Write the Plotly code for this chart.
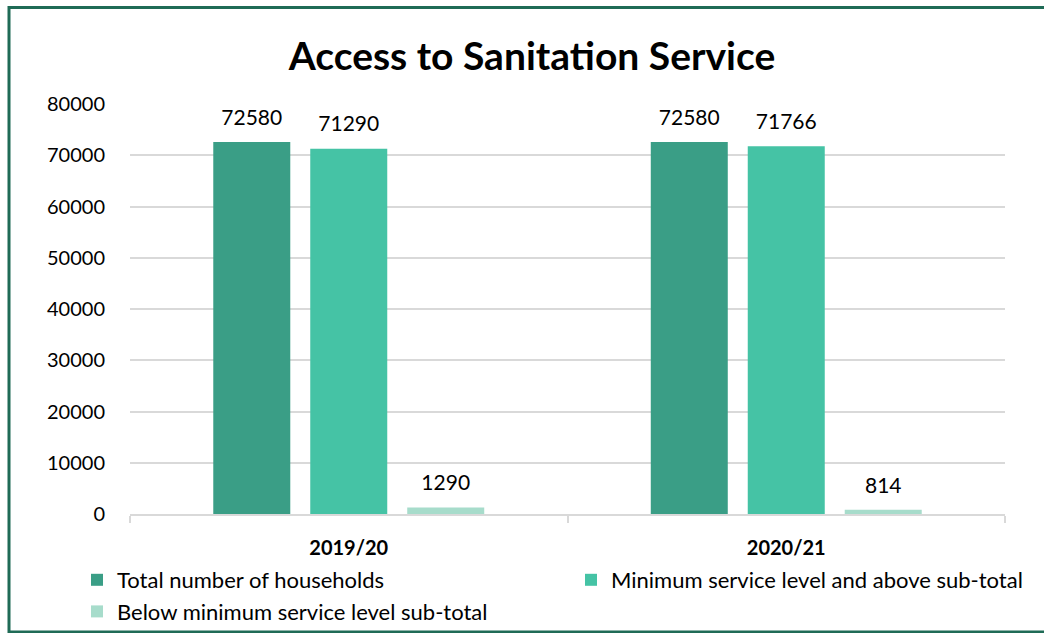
import plotly.graph_objects as go

years = ["2019/20", "2020/21"]
series_names = [
    "Total number of households",
    "Minimum service level and above sub-total",
    "Below minimum service level sub-total",
]
total_households = [72580, 72580]
min_and_above = [71290, 71766]
below_min = [1290, 814]
colors = ["#3A9E86", "#45C3A5", "#A7DCCB"]

FONT = "Lato"
LABEL_PAD = 2000  # gap (in axis units) between a bar top and its value label

fig = go.Figure()
for i, (name, vals, col) in enumerate(zip(series_names, [total_households, min_and_above, below_min], colors)):
    fig.add_trace(go.Bar(
        x=years, y=vals, name=name, offsetgroup=str(i),
        marker=dict(color=col, line=dict(width=0)),
        hoverinfo="x+y+name",
    ))
    # transparent spacer bar stacked on top of each bar carries the value label
    fig.add_trace(go.Bar(
        x=years, y=[LABEL_PAD] * len(vals), base=vals, offsetgroup=str(i),
        marker=dict(color="rgba(0,0,0,0)", line=dict(width=0)),
        text=[str(v) for v in vals], textposition="outside",
        textfont=dict(family=FONT, size=21, color="#000000"),
        cliponaxis=False, showlegend=False, hoverinfo="skip",
    ))

# plot area: x 130..1005, y 104..514
L, R, T, B = 130, 39, 104, 119
W, H = 1044, 633
pw, ph = W - L - R, H - T - B

def px(x):
    return (x - L) / pw

def py(y):
    return (H - B - y) / ph

fig.update_layout(
    width=W, height=H,
    margin=dict(l=L, r=R, t=T, b=B, autoexpand=False),
    paper_bgcolor="white", plot_bgcolor="white",
    barmode="group", bargap=0.335, bargroupgap=0.206,
    title=dict(text="<b>Access to Sanitation Service</b>", x=532 / W, xanchor="center",
               y=1 - 56 / H, yanchor="middle",
               font=dict(family=FONT, size=39, color="#000000")),
    font=dict(family=FONT, color="#000000"),
    showlegend=True,
    legend=dict(orientation="h", x=px(77), xanchor="left", y=py(559), yanchor="top",
                entrywidth=449, font=dict(family=FONT, size=22, color="#000000"),
                traceorder="normal", itemclick=False, bgcolor="rgba(0,0,0,0)",
                tracegroupgap=0),
    xaxis=dict(type="category", showline=True, linecolor="#D9D9D9", linewidth=1.5,
               ticks="outside", tickson="boundaries", ticklen=7, tickcolor="#D9D9D9",
               tickwidth=1.5, tickfont=dict(family=FONT, size=20, color="#000000"),
               ticklabelstandoff=15, showgrid=False),
    yaxis=dict(range=[0, 80000], dtick=10000, showgrid=True, gridcolor="#D9D9D9",
               gridwidth=1.5, zeroline=False, showline=False, ticks="",
               tickfont=dict(family=FONT, size=20, color="#000000"),
               ticklabelstandoff=24, tickformat="d"),
    shapes=[dict(type="rect", xref="paper", yref="paper",
                 x0=px(9), x1=px(1048), y0=py(632), y1=py(7.5),
                 line=dict(color="#1F6B56", width=3), fillcolor="rgba(0,0,0,0)",
                 layer="below")],
)
fig.update_xaxes(tickprefix="<b>", ticksuffix="</b>")

fig.write_html("out.html")
